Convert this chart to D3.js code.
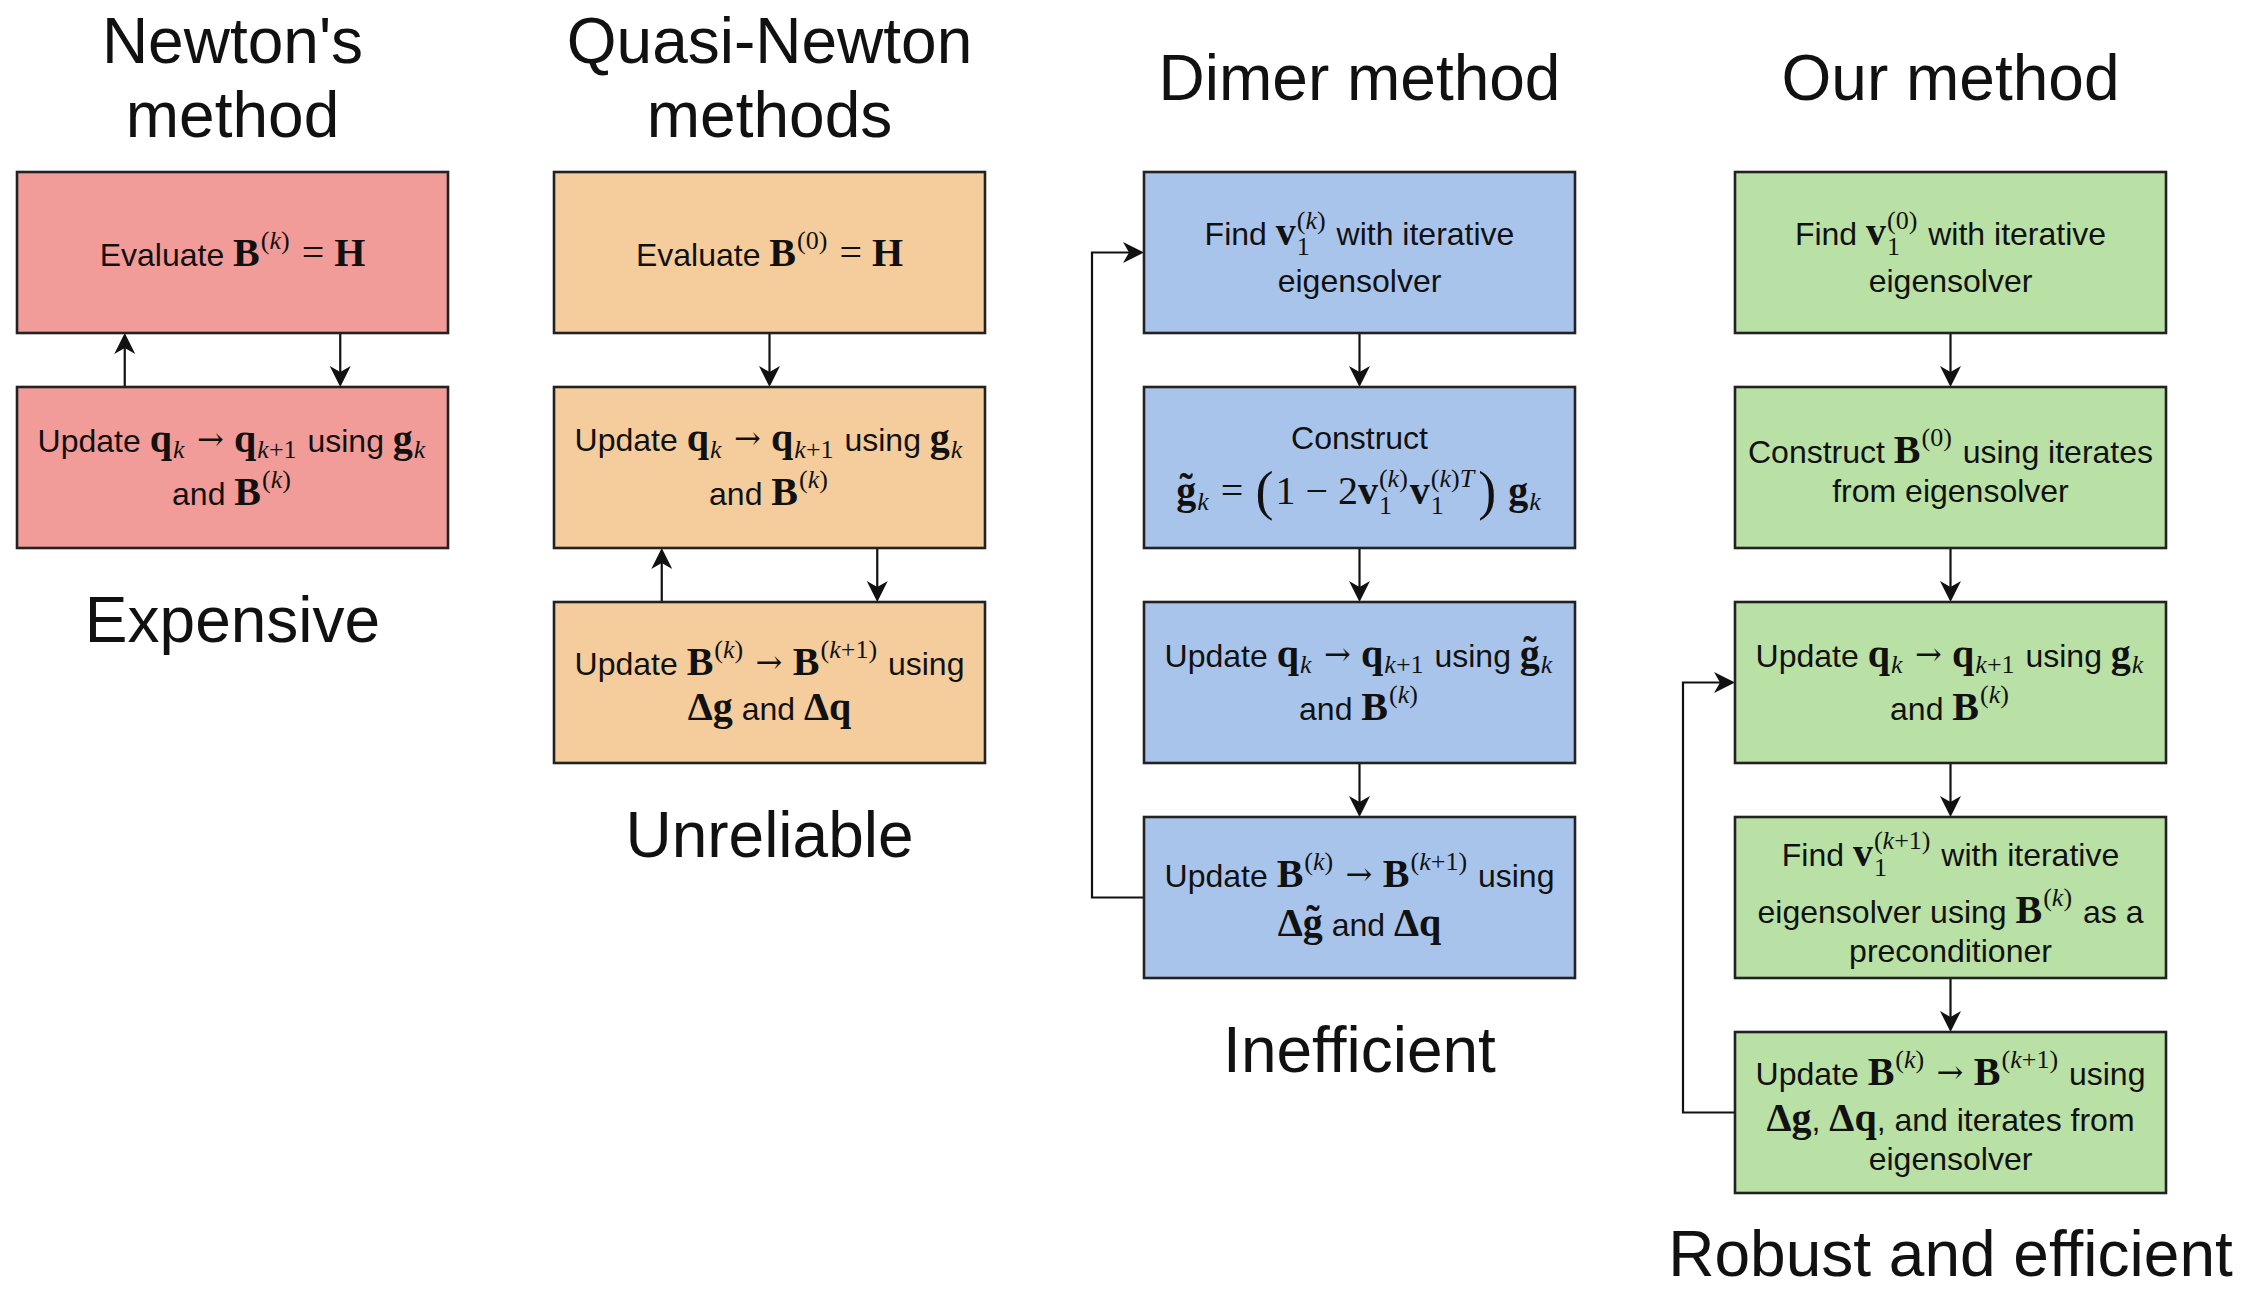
<!DOCTYPE html>
<html><head><meta charset="utf-8">
<script src="https://cdn.jsdelivr.net/npm/d3@7"></script>
<style>html,body{margin:0;padding:0;background:#fff;} svg{display:block} text{white-space:pre;}</style>
</head><body>
<svg id="chart" width="2241" height="1291"></svg>
<script>
// ---------- DATA ----------
const S = t => ({s: t});                       // sans text
const R = t => ({r: t});                       // upright math
const A = () => ({arrow: "\u2192"});           // relation arrow
const BIG = t => ({big: t});                   // large delimiter
const B = (t, sub, sup, tilde) => ({b: t, sub, sup, tilde}); // bold math symbol with scripts

const columnTitles = [["Newton's", "method"], ["Quasi-Newton", "methods"], ["Dimer method"], ["Our method"]];
const verdicts = ["Expensive", "Unreliable", "Inefficient", "Robust and efficient"];
const columnFills = ["#F19C99", "#F5CD9C", "#A9C4EB", "#B9E0A5"];

const updateQ = [[S("Update "), B("q", "k"), A(), B("q", "k+1"), S(" using "), B("g", "k")], [S("and "), B("B", null, "(k)")]];
const updateQt = [[S("Update "), B("q", "k"), A(), B("q", "k+1"), S(" using "), B("g", "k", null, true)], [S("and "), B("B", null, "(k)")]];

const newtonBoxes = [
  [[S("Evaluate "), B("B", null, "(k)"), R(" = "), B("H")]],
  updateQ
];
const quasiBoxes = [
  [[S("Evaluate "), B("B", null, "(0)"), R(" = "), B("H")]],
  updateQ,
  [[S("Update "), B("B", null, "(k)"), A(), B("B", null, "(k+1)"), S(" using")],
   [B("\u0394"), B("g"), S(" and "), B("\u0394"), B("q")]]
];
const dimerBoxes = [
  [[S("Find "), B("v", "1", "(k)"), S(" with iterative")], [S("eigensolver")]],
  [[S("Construct")],
   [B("g", "k", null, true), R(" = "), BIG("("), R("1 \u2212 2"), B("v", "1", "(k)"), B("v", "1", "(k)T"), BIG(")"), R(" "), B("g", "k")]],
  updateQt,
  [[S("Update "), B("B", null, "(k)"), A(), B("B", null, "(k+1)"), S(" using")],
   [B("\u0394"), B("g", null, null, true), S(" and "), B("\u0394"), B("q")]]
];
const ourBoxes = [
  [[S("Find "), B("v", "1", "(0)"), S(" with iterative")], [S("eigensolver")]],
  [[S("Construct "), B("B", null, "(0)"), S(" using iterates")], [S("from eigensolver")]],
  updateQ,
  [[S("Find "), B("v", "1", "(k+1)"), S(" with iterative")], [S("eigensolver using "), B("B", null, "(k)"), S(" as a")], [S("preconditioner")]],
  [[S("Update "), B("B", null, "(k)"), A(), B("B", null, "(k+1)"), S(" using")],
   [B("\u0394"), B("g"), S(", "), B("\u0394"), B("q"), S(", and iterates from")], [S("eigensolver")]]
];
const columnBoxes = [newtonBoxes, quasiBoxes, dimerBoxes, ourBoxes];

// connections: column, kind, from row, to row, fraction of width
const links = [
  {col: 0, kind: "v", from: 1, to: 0, at: 0.25},
  {col: 0, kind: "v", from: 0, to: 1, at: 0.75},
  {col: 1, kind: "v", from: 0, to: 1, at: 0.5},
  {col: 1, kind: "v", from: 2, to: 1, at: 0.25},
  {col: 1, kind: "v", from: 1, to: 2, at: 0.75},
  {col: 2, kind: "v", from: 0, to: 1, at: 0.5},
  {col: 2, kind: "v", from: 1, to: 2, at: 0.5},
  {col: 2, kind: "v", from: 2, to: 3, at: 0.5},
  {col: 2, kind: "loop", from: 3, to: 0},
  {col: 3, kind: "v", from: 0, to: 1, at: 0.5},
  {col: 3, kind: "v", from: 1, to: 2, at: 0.5},
  {col: 3, kind: "v", from: 2, to: 3, at: 0.5},
  {col: 3, kind: "v", from: 3, to: 4, at: 0.5},
  {col: 3, kind: "loop", from: 4, to: 2}
];

// ---------- LAYOUT ----------
const BOX_W = 431, BOX_H = 161, LOOP_OFF = 52;
const colX = d3.scaleOrdinal().domain(d3.range(4)).range([17, 554, 1144, 1735]);
const rowY = d3.scaleLinear().domain([0, 1]).range([172, 387]);
// preferred baselines of text lines, relative to box top
const lineBaselines = [
  [[94], [67, 116]],
  [[94], [67, 115], [76, 115]],
  [[75, 118], [62, 117], [68, 115], [74, 115]],
  [[75, 118], [77, 114], [68, 115], [54, 105, 141], [57, 97, 135]]
];

const SANS = "'Liberation Sans', Arial, Helvetica, sans-serif";
const SERIF = "'Liberation Serif', 'Times New Roman', Times, serif";
const ARROWF = "'DejaVu Serif', 'DejaVu Sans', serif";
const METRIC = new Map([[SANS, [0.905, 0.212]], [SERIF, [0.891, 0.216]], [ARROWF, [0.93, 0.24]]]);
const FS = 32, MS = 40, SS = 26, BIGS = 54, TITLE = 64, AS = 32;
const INK = "#111";

const svg = d3.select("#chart");
svg.append("rect").attr("width", 2241).attr("height", 1291).attr("fill", "#fff");
const linkLayer = svg.append("g");
const boxLayer = svg.append("g");
const textLayer = svg.append("g");
const measurer = svg.append("text").attr("visibility", "hidden").attr("x", -1000).attr("y", -1000);

function measure(str, family, size, weight, style) {
  measurer.attr("font-family", family).attr("font-size", size)
    .attr("font-weight", weight || "normal").attr("font-style", style || "normal").text(str);
  return measurer.node().getComputedTextLength();
}
function addText(parent, str, x, y, family, size, weight, style) {
  return parent.append("text").attr("x", x).attr("y", y)
    .attr("font-family", family).attr("font-size", size)
    .attr("font-weight", weight || "normal").attr("font-style", style || "normal")
    .attr("fill", INK).text(str);
}
function scriptPieces(pieces, str, x, y) {
  let cx = x;
  (str.match(/[A-Za-z]+|[^A-Za-z]+/g) || []).forEach(r => {
    const st = /[A-Za-z]/.test(r) ? "italic" : "normal";
    pieces.push({str: r, family: SERIF, size: SS, weight: "normal", style: st, x: cx, y});
    cx += measure(r, SERIF, SS, "normal", st);
  });
  return cx - x;
}
// lay out one line relative to baseline 0 and x 0
function layoutLine(tokens) {
  const pieces = [];
  let x = 0;
  tokens.forEach(tk => {
    let w = 0;
    if (tk.s != null) {
      pieces.push({str: tk.s, family: SANS, size: FS, x, y: 0});
      w = measure(tk.s, SANS, FS);
    } else if (tk.r != null) {
      pieces.push({str: tk.r, family: SERIF, size: MS, x, y: 0});
      w = measure(tk.r, SERIF, MS);
    } else if (tk.arrow != null) {
      const gap = MS * 0.26;
      pieces.push({str: tk.arrow, family: ARROWF, size: AS, x: x + gap, y: -2});
      w = measure(tk.arrow, ARROWF, AS) + 2 * gap;
    } else if (tk.big != null) {
      pieces.push({str: tk.big, family: SERIF, size: BIGS, x: x + 2, y: MS * 0.12});
      w = measure(tk.big, SERIF, BIGS) + 4;
    } else if (tk.b != null) {
      pieces.push({str: tk.b, family: SERIF, size: MS, weight: "bold", x, y: 0});
      w = measure(tk.b, SERIF, MS, "bold");
      if (tk.tilde) {
        const tw = measure("\u02DC", SERIF, MS, "bold");
        pieces.push({str: "\u02DC", family: SERIF, size: MS, weight: "bold", x: x + w / 2 - tw / 2, y: -MS * 0.08});
      }
      let sw = 0;
      if (tk.sup) sw = Math.max(sw, scriptPieces(pieces, tk.sup, x + w + 1, -MS * 0.42));
      if (tk.sub) sw = Math.max(sw, scriptPieces(pieces, tk.sub, x + w + 1, tk.sup ? MS * 0.25 : MS * 0.16));
      if (sw) w += sw + 3;
    }
    x += w;
  });
  const top = d3.min(pieces, p => p.y - METRIC.get(p.family)[0] * p.size);
  const bottom = d3.max(pieces, p => p.y + METRIC.get(p.family)[1] * p.size);
  return {pieces, width: x, top, bottom};
}

// boxes
columnBoxes.forEach((boxes, c) => {
  boxes.forEach((lines, r) => {
    const x0 = colX(c), y0 = rowY(r), cx = x0 + BOX_W / 2;
    boxLayer.append("rect").attr("x", x0).attr("y", y0).attr("width", BOX_W).attr("height", BOX_H)
      .attr("fill", columnFills[c]).attr("stroke", "#222").attr("stroke-width", 2.6);
    const laid = lines.map(layoutLine);
    const pref = lineBaselines[c][r];
    const base = pref.slice();
    for (let i = 1; i < base.length; i++) {
      const need = base[i - 1] + laid[i - 1].bottom - laid[i].top + 1.5;
      if (base[i] < need) base[i] = need;
    }
    const shift = (d3.sum(base) - d3.sum(pref)) / base.length;
    const textEl = textLayer.append("text").attr("fill", INK);
    laid.forEach((ln, i) => {
      const bx = cx - ln.width / 2, by = y0 + base[i] - shift;
      ln.pieces.forEach(p => {
        textEl.append("tspan").attr("x", bx + p.x).attr("y", by + p.y)
          .attr("font-family", p.family).attr("font-size", p.size)
          .attr("font-weight", p.weight || "normal").attr("font-style", p.style || "normal")
          .text(p.str);
      });
    });
  });
});

// titles and verdicts
columnTitles.forEach((lines, c) => {
  const cx = colX(c) + BOX_W / 2;
  const ys = lines.length === 2 ? [63, 137] : [100];
  lines.forEach((l, i) => addText(textLayer, l, cx, ys[i], SANS, TITLE).attr("text-anchor", "middle"));
  const last = rowY(columnBoxes[c].length - 1) + BOX_H;
  addText(textLayer, verdicts[c], cx, Math.min(last + 94, 1276), SANS, TITLE).attr("text-anchor", "middle");
});
measurer.remove();

// arrows
function arrow(points) {
  const n = points.length;
  const [x1, y1] = points[n - 2], [x2, y2] = points[n - 1];
  const ang = Math.atan2(y2 - y1, x2 - x1);
  const L = 21, W = 10.5, N = 6;
  const pts = points.slice();
  pts[n - 1] = [x2 - Math.cos(ang) * (L - N), y2 - Math.sin(ang) * (L - N)];
  linkLayer.append("path").attr("d", d3.line()(pts)).attr("fill", "none")
    .attr("stroke", INK).attr("stroke-width", 2.2);
  linkLayer.append("path").attr("d", d3.line()([[0, 0], [-L, -W], [-L + N, 0], [-L, W]]) + "Z")
    .attr("transform", `translate(${x2},${y2}) rotate(${ang * 180 / Math.PI})`).attr("fill", INK);
}
links.forEach(lk => {
  const x0 = colX(lk.col);
  if (lk.kind === "v") {
    const x = x0 + BOX_W * lk.at;
    const down = lk.to > lk.from;
    const ya = down ? rowY(lk.from) + BOX_H : rowY(lk.from);
    const yb = down ? rowY(lk.to) : rowY(lk.to) + BOX_H;
    arrow([[x, ya], [x, yb]]);
  } else {
    const ya = rowY(lk.from) + BOX_H / 2, yb = rowY(lk.to) + BOX_H / 2;
    const xl = x0 - LOOP_OFF;
    arrow([[x0, ya], [xl, ya], [xl, yb], [x0, yb]]);
  }
});
</script></body></html>
